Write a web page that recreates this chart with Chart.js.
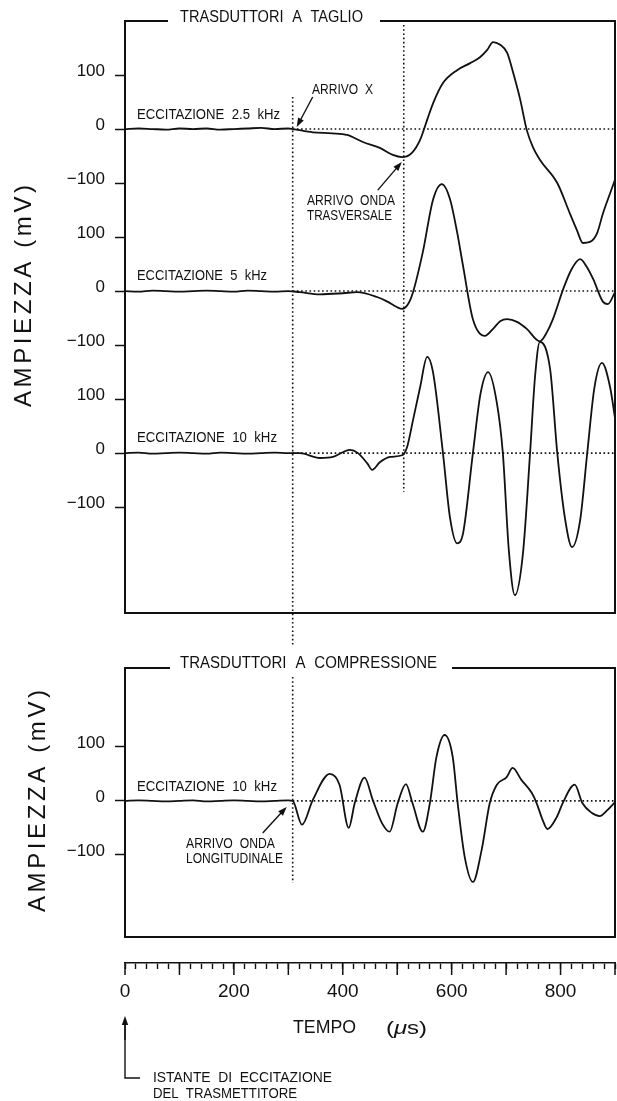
<!DOCTYPE html>
<html>
<head>
<meta charset="utf-8">
<title>Trasduttori a taglio e a compressione</title>
<script src="https://cdn.jsdelivr.net/npm/chart.js@4.4.1/dist/chart.umd.min.js"></script>
<style>
  html, body { margin: 0; padding: 0; background: #fff; }
  #tavola { position: relative; width: 617px; height: 1101px; overflow: hidden; }
  #tavola canvas { position: absolute; left: 0; top: 0; }
</style>
</head>
<body>
<div id="tavola">
  <canvas id="taglio" width="617" height="1101"></canvas>
  <canvas id="compressione" width="617" height="1101"></canvas>
</div>
<script>
// Asse dei tempi (µs), comune a tutte le tracce
const tempoMin = 0;
const tempoMax = 900;
const tempoPasso = 20;
const tempoEtichette = [0, 200, 400, 600, 800];

// Tacche dell'asse delle ampiezze (mV), ripetute per ogni traccia
const ampiezzaTacche = [-100, 0, 100];
const ampiezzaEtichette = ['\u2212100', '0', '100'];

// Istanti di arrivo (µs)
const arrivoX = 308;
const arrivoTrasversale = 512;
const arrivoLongitudinale = 308;

// Trasduttori a taglio - eccitazione 2.5 kHz
const tempo25 = [0, 25, 50, 75, 100, 125, 150, 175, 200, 225, 250, 275, 300, 308,
  345, 380, 408, 437, 468, 492, 509, 527, 542, 555, 566, 584, 610, 634, 652, 665, 676,
  689, 702, 713, 726, 738, 749, 762, 794, 817, 830, 841, 854, 867, 878, 891, 900];
const ampiezza25 = [0, 1, 0, -1, 1, 0, 1, -1, 0, 1, 2, 0, 1, 0,
  -6, -8, -11, -24, -35, -48, -52, -44, -20, 17, 48, 85, 109, 122, 133, 146, 161,
  156, 141, 104, 54, -2, -33, -57, -100, -156, -187, -211, -209, -193, -156, -119, -94];

// Trasduttori a taglio - eccitazione 5 kHz
const tempo5 = [0, 25, 50, 75, 100, 125, 150, 175, 200, 225, 250, 275, 300,
  321, 358, 400, 426, 463, 481, 500, 509, 520, 529, 547, 566, 582, 597, 610, 621, 639,
  661, 676, 689, 702, 720, 738, 762, 775, 786, 805, 820, 836, 848, 860, 878, 887, 900];
const ampiezza5 = [0, -1, 1, 0, -1, 0, 1, 0, -1, 1, 0, -1, 0,
  -2, -6, -4, -2, -11, -19, -30, -33, -24, -2, 72, 170, 198, 170, 109, 46, -52,
  -83, -70, -56, -52, -57, -70, -93, -76, -52, 4, 40, 59, 45, 22, -20, -24, -2];

// Trasduttori a taglio - eccitazione 10 kHz
const tempo10 = [0, 25, 50, 75, 100, 125, 150, 175, 200, 225, 250, 275, 300,
  321, 358, 382, 413, 428, 445, 454, 468, 487, 509, 518, 529, 542, 555, 566, 584,
  597, 610, 621, 639, 653, 667, 683, 694, 705, 716, 731, 744, 753, 762, 781, 794,
  808, 821, 836, 849, 862, 876, 891, 900];
const ampiezza10 = [0, 1, -1, 0, 1, 0, -1, 1, 0, -1, 0, 1, 0,
  0, -9, -7, 6, 0, -19, -31, -17, -7, -4, 11, 61, 122, 178, 148, 0,
  -120, -167, -148, 0, 110, 150, 93, 0, -180, -263, -185, 0, 140, 206, 154, 0,
  -120, -174, -124, 0, 120, 167, 122, 65];

// Trasduttori a compressione - eccitazione 10 kHz
const tempoComp = [0, 25, 50, 75, 100, 125, 150, 175, 200, 225, 250, 275, 300,
  308, 325, 345, 376, 394, 411, 422, 440, 455, 472, 486, 501, 516, 528, 547, 560,
  572, 587, 602, 611, 624, 639, 655, 670, 683, 701, 712, 728, 747, 756, 767, 776,
  793, 804, 826, 840, 857, 872, 886, 900];
const ampiezzaComp = [0, 1, 0, -1, 0, 1, -1, 0, 1, 0, -1, 0, 1,
  0, -44, 2, 50, 30, -50, -4, 43, 2, -41, -57, -4, 31, -4, -57, -4,
  81, 122, 81, -4, -104, -150, -91, -4, 30, 44, 61, 39, 15, -4, -35, -52,
  -30, -4, 30, -4, -22, -28, -17, -2];

const NERO = '#111';
const FONT = '"Liberation Sans", Arial, Helvetica, sans-serif';

function punti(tempi, valori) {
  return tempi.map((t, i) => ({ x: t, y: valori[i] }));
}

// Le tracce sovrapposte escono dalla propria fascia: nessun ritaglio per asse
function traccia(tempi, valori, asse) {
  return {
    data: punti(tempi, valori),
    yAxisID: asse,
    borderColor: NERO,
    borderWidth: 1.8,
    pointRadius: 0,
    cubicInterpolationMode: 'monotone',
    fill: false,
    clip: false
  };
}

// Scritta stretta: larga quanto l'intervallo x0..x1, centrata in altezza su yc
function scritta(ctx, testo, x0, x1, yc, size, opts = {}) {
  ctx.save();
  ctx.font = `${opts.stile || ''} ${size}px ${FONT}`;
  ctx.wordSpacing = (opts.spazio || 0) + 'px';
  ctx.textBaseline = 'alphabetic';
  ctx.textAlign = 'left';
  const w = ctx.measureText(testo).width;
  ctx.translate(x0, yc + size * 0.358);
  ctx.scale((x1 - x0) / w, 1);
  ctx.fillStyle = NERO;
  ctx.fillText(testo, 0, 0);
  ctx.restore();
}

// Titolo verticale con lettere spaziate
function titoloVerticale(ctx, testo, xc, yc, size, lunghezza) {
  ctx.save();
  ctx.font = `${size}px ${FONT}`;
  ctx.textBaseline = 'middle';
  ctx.textAlign = 'left';
  ctx.letterSpacing = '0px';
  const w0 = ctx.measureText(testo).width;
  const extra = (lunghezza - w0) / (testo.length - 1);
  ctx.letterSpacing = extra + 'px';
  ctx.translate(xc, yc);
  ctx.rotate(-Math.PI / 2);
  ctx.fillStyle = NERO;
  ctx.fillText(testo, -lunghezza / 2, 0);
  ctx.restore();
}

function tratteggio(ctx, x1, y1, x2, y2) {
  ctx.save();
  ctx.strokeStyle = NERO;
  ctx.lineWidth = 1.6;
  ctx.setLineDash([1.6, 2.6]);
  ctx.beginPath();
  ctx.moveTo(x1, y1);
  ctx.lineTo(x2, y2);
  ctx.stroke();
  ctx.restore();
}

function freccia(ctx, xa, ya, xb, yb) {
  const ang = Math.atan2(yb - ya, xb - xa);
  const L = 9, W = 3.2;
  ctx.save();
  ctx.strokeStyle = NERO;
  ctx.fillStyle = NERO;
  ctx.lineWidth = 1.4;
  ctx.beginPath();
  ctx.moveTo(xa, ya);
  ctx.lineTo(xb - Math.cos(ang) * L * 0.7, yb - Math.sin(ang) * L * 0.7);
  ctx.stroke();
  ctx.beginPath();
  ctx.moveTo(xb, yb);
  ctx.lineTo(xb - Math.cos(ang) * L - Math.sin(ang) * W, yb - Math.sin(ang) * L + Math.cos(ang) * W);
  ctx.lineTo(xb - Math.cos(ang) * L + Math.sin(ang) * W, yb - Math.sin(ang) * L - Math.cos(ang) * W);
  ctx.closePath();
  ctx.fill();
  ctx.restore();
}

// Cornice del pannello, con il lato superiore interrotto dal titolo
function cornice(ctx, l, t, r, b, g0, g1) {
  ctx.save();
  ctx.strokeStyle = NERO;
  ctx.lineWidth = 2;
  ctx.setLineDash([]);
  ctx.beginPath();
  ctx.moveTo(g0, t);
  ctx.lineTo(l, t);
  ctx.lineTo(l, b);
  ctx.lineTo(r, b);
  ctx.lineTo(r, t);
  ctx.lineTo(g1, t);
  ctx.stroke();
  ctx.restore();
}

function asseAmpiezza(min, max, peso, pila) {
  const asse = {
    type: 'linear',
    position: 'left',
    weight: peso,
    min: min,
    max: max,
    afterBuildTicks: (s) => { s.ticks = ampiezzaTacche.map((value) => ({ value })); },
    afterFit: (s) => { s.width = 125; },
    border: { display: false },
    grid: { drawOnChartArea: false, drawTicks: true, tickLength: 10, tickColor: NERO, tickWidth: 1.5 },
    ticks: {
      autoSkip: false,
      padding: 10,
      labelOffset: -4,
      color: NERO,
      font: { family: FONT, size: 17 },
      callback: (v) => ampiezzaEtichette[ampiezzaTacche.indexOf(v)]
    }
  };
  if (pila) {
    asse.stack = pila;
    asse.stackWeight = max - min;
  }
  return asse;
}

const pannelloTaglio = {
  id: 'pannelloTaglio',
  beforeDatasetsDraw(chart) {
    const { ctx, chartArea: a, scales } = chart;
    const xa = scales.x.getPixelForValue(arrivoX);
    const xt = scales.x.getPixelForValue(arrivoTrasversale);
    tratteggio(ctx, xa, 97, xa, 645);
    tratteggio(ctx, xt, 25, xt, 492);
    for (const id of ['y25', 'y5', 'y10']) {
      const y = scales[id].getPixelForValue(0);
      tratteggio(ctx, xa, y, a.right, y);
    }
  },
  afterDraw(chart) {
    const { ctx, chartArea: a, scales } = chart;
    cornice(ctx, a.left, a.top, a.right, a.bottom, 168, 380);
    scritta(ctx, 'TRASDUTTORI A TAGLIO', 180, 363, a.top - 5, 16, { spazio: 5 });
    scritta(ctx, 'ECCITAZIONE 2.5 kHz', 137, 280, scales.y25.getPixelForValue(0) - 15, 14, { spazio: 4 });
    scritta(ctx, 'ECCITAZIONE 5 kHz', 137, 267, scales.y5.getPixelForValue(0) - 16, 14, { spazio: 4 });
    scritta(ctx, 'ECCITAZIONE 10 kHz', 137, 277, scales.y10.getPixelForValue(0) - 16, 14, { spazio: 4 });
    scritta(ctx, 'ARRIVO X', 312, 373, 89, 14, { spazio: 4 });
    scritta(ctx, 'ARRIVO ONDA', 307, 395, 200, 14, { spazio: 4 });
    scritta(ctx, 'TRASVERSALE', 307, 392, 215, 14);
    const xa = scales.x.getPixelForValue(arrivoX);
    const y0 = scales.y25.getPixelForValue(0);
    freccia(ctx, xa + 20, y0 - 32, xa + 4, y0 - 2);
    const xt = scales.x.getPixelForValue(arrivoTrasversale);
    const ym = scales.y25.getPixelForValue(-52);
    freccia(ctx, xt - 26, ym + 33, xt - 2, ym + 5);
    titoloVerticale(ctx, 'AMPIEZZA (mV)', 24, 296, 24, 222);
  }
};

const pannelloCompressione = {
  id: 'pannelloCompressione',
  beforeDatasetsDraw(chart) {
    const { ctx, chartArea: a, scales } = chart;
    const xl = scales.x.getPixelForValue(arrivoLongitudinale);
    tratteggio(ctx, xl, 677, xl, 883);
    const y = scales.y.getPixelForValue(0);
    tratteggio(ctx, xl, y, a.right, y);
  },
  afterDraw(chart) {
    const { ctx, chartArea: a, scales } = chart;
    const fondo = a.bottom - 26;
    cornice(ctx, a.left, a.top, a.right, fondo, 170, 452);
    scritta(ctx, 'TRASDUTTORI A COMPRESSIONE', 180, 437, a.top - 6, 16, { spazio: 5 });
    const y0 = scales.y.getPixelForValue(0);
    scritta(ctx, 'ECCITAZIONE 10 kHz', 137, 277, y0 - 15, 14, { spazio: 4 });
    scritta(ctx, 'ARRIVO ONDA', 186, 275, 843, 14, { spazio: 4 });
    scritta(ctx, 'LONGITUDINALE', 186, 283, 858, 14);
    const xl = scales.x.getPixelForValue(arrivoLongitudinale);
    freccia(ctx, xl - 30, y0 + 32, xl - 6, y0 + 6);
    titoloVerticale(ctx, 'AMPIEZZA (mV)', 38, 801, 24, 222);

    // tacche lunghe del righello dei tempi, ogni 100 µs
    ctx.save();
    ctx.strokeStyle = NERO;
    ctx.lineWidth = 1.5;
    for (const t of scales.x.ticks) {
      if (t.value % 100 === 0) {
        const x = scales.x.getPixelForValue(t.value);
        ctx.beginPath();
        ctx.moveTo(x, a.bottom);
        ctx.lineTo(x, a.bottom + 12);
        ctx.stroke();
      }
    }
    ctx.restore();

    // titolo dell'asse dei tempi
    scritta(ctx, 'TEMPO', 293, 356, 1027, 18);
    ctx.save();
    ctx.fillStyle = NERO;
    ctx.textBaseline = 'alphabetic';
    const base = 1027 + 19 * 0.358;
    ctx.font = `19px ${FONT}`;
    const wA = ctx.measureText('(').width;
    const wC = ctx.measureText('s)').width;
    ctx.font = `italic 19px ${FONT}`;
    const wB = ctx.measureText('\u03bc').width;
    const sx = (427 - 386) / (wA + wB + wC);
    ctx.translate(386, base);
    ctx.scale(sx, 1);
    ctx.font = `19px ${FONT}`;
    ctx.fillText('(', 0, 0);
    ctx.font = `italic 19px ${FONT}`;
    ctx.fillText('\u03bc', wA, 0);
    ctx.font = `19px ${FONT}`;
    ctx.fillText('s)', wA + wB, 0);
    ctx.restore();

    // istante di eccitazione del trasmettitore
    const x0 = scales.x.getPixelForValue(0);
    ctx.save();
    ctx.strokeStyle = NERO;
    ctx.lineWidth = 1.4;
    ctx.beginPath();
    ctx.moveTo(x0, 1024);
    ctx.lineTo(x0, 1078);
    ctx.lineTo(x0 + 15, 1078);
    ctx.stroke();
    ctx.restore();
    freccia(ctx, x0, 1040, x0, 1016);
    scritta(ctx, 'ISTANTE DI ECCITAZIONE', 153, 332, 1077, 15, { spazio: 4 });
    scritta(ctx, 'DEL TRASMETTITORE', 153, 297, 1093, 15, { spazio: 4 });
  }
};

new Chart(document.getElementById('taglio'), {
  type: 'line',
  data: {
    datasets: [
      traccia(tempo25, ampiezza25, 'y25'),
      traccia(tempo5, ampiezza5, 'y5'),
      traccia(tempo10, ampiezza10, 'y10')
    ]
  },
  options: {
    responsive: false,
    animation: false,
    events: [],
    layout: { padding: { top: 21, bottom: 488, left: 0, right: 2 } },
    plugins: { legend: { display: false }, tooltip: { enabled: false } },
    scales: {
      x: { type: 'linear', min: tempoMin, max: tempoMax, display: false },
      y25: asseAmpiezza(-150, 200, 3, 'taglio'),
      y5: asseAmpiezza(-150, 150, 2, 'taglio'),
      y10: asseAmpiezza(-296, 150, 1, 'taglio')
    }
  },
  plugins: [pannelloTaglio]
});

const tempoTacche = [];
for (let t = tempoMin; t <= tempoMax; t += tempoPasso) tempoTacche.push(t);

new Chart(document.getElementById('compressione'), {
  type: 'line',
  data: { datasets: [traccia(tempoComp, ampiezzaComp, 'y')] },
  options: {
    responsive: false,
    animation: false,
    events: [],
    layout: { padding: { top: 668, bottom: 98, left: 0, right: 2 } },
    plugins: { legend: { display: false }, tooltip: { enabled: false } },
    scales: {
      x: {
        type: 'linear',
        min: tempoMin,
        max: tempoMax,
        afterBuildTicks: (s) => { s.ticks = tempoTacche.map((value) => ({ value })); },
        afterFit: (s) => { s.height = 40; s.paddingLeft = 0; s.paddingRight = 0; },
        border: { display: true, color: NERO, width: 1.6 },
        grid: { drawOnChartArea: false, drawTicks: true, tickLength: 6, tickColor: NERO, tickWidth: 1.4 },
        ticks: {
          autoSkip: false,
          maxRotation: 0,
          padding: 11,
          color: NERO,
          font: { family: FONT, size: 19 },
          callback: (v) => (tempoEtichette.includes(v) ? String(v) : '')
        }
      },
      y: asseAmpiezza(-300, 246, 1, null)
    }
  },
  plugins: [pannelloCompressione]
});
</script>
</body>
</html>
